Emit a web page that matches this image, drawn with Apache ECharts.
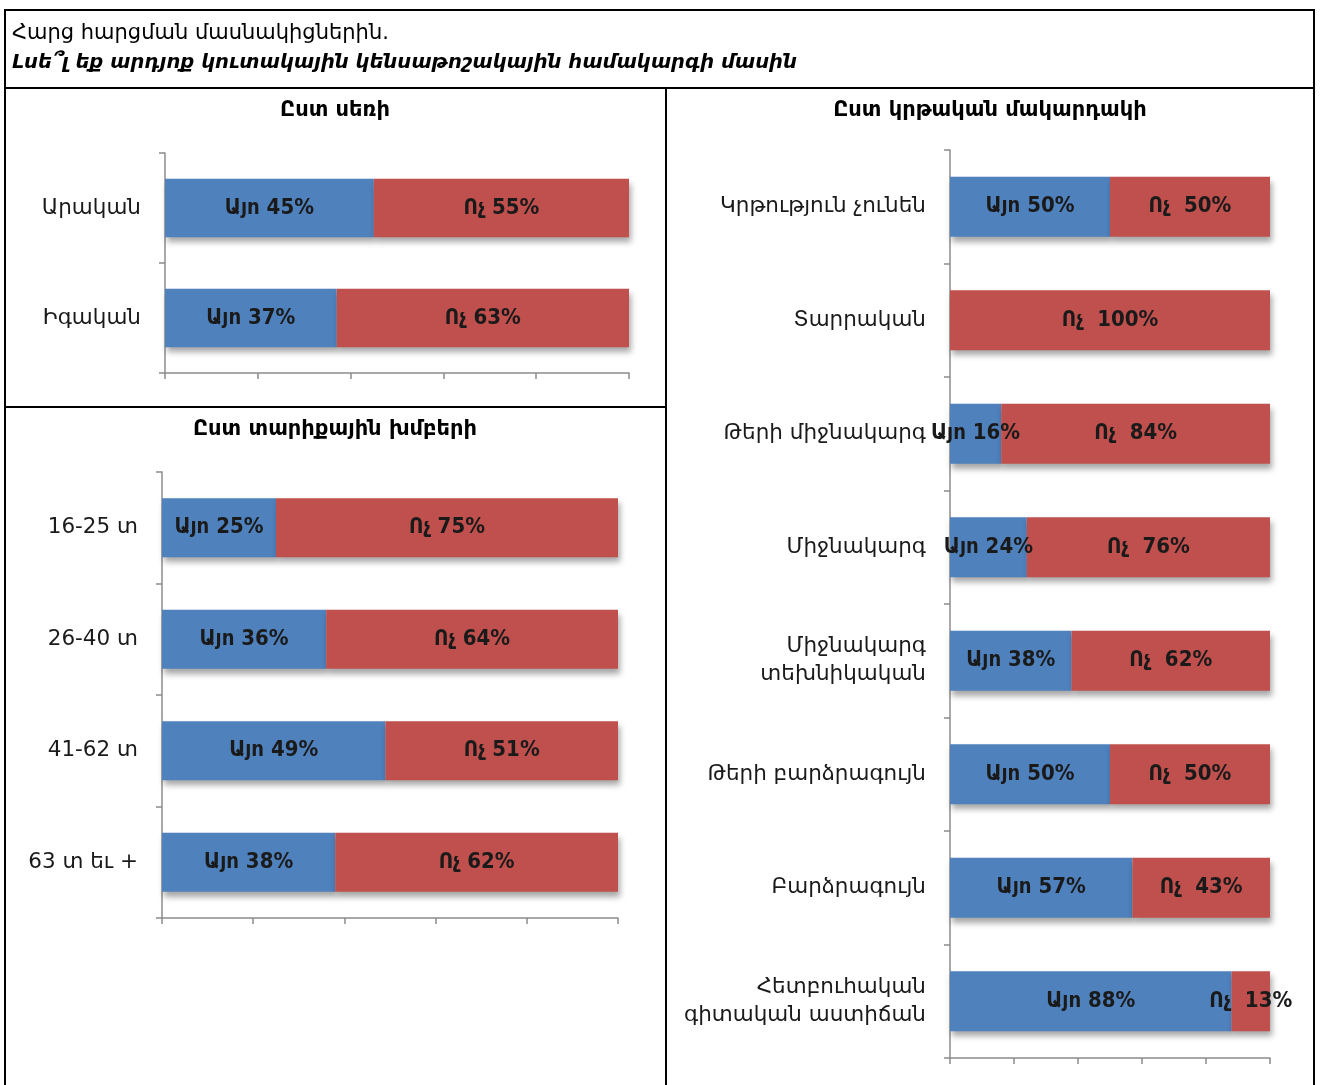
<!DOCTYPE html>
<html>
<head>
<meta charset="utf-8">
<script src="https://cdn.jsdelivr.net/npm/echarts@6/dist/echarts.min.js"></script>
<style>
	html, body { margin: 0; padding: 0; background: #fff; }
	#show { width: 1320px; height: 1085px; }
</style>
</head>
<body>
<div id="show"></div>
<script>
// Տվյալներ
var yesName = 'Այո';
var noName = 'Ոչ';

// Ըստ սեռի
var sexCats = ['Արական', 'Իգական'];
var sexYes = [45, 37];
var sexNo = [55, 63];

// Ըստ տարիքային խմբերի
var ageCats = ['16-25 տ', '26-40 տ', '41-62 տ', '63 տ եւ +'];
var ageYes = [25, 36, 49, 38];
var ageNo = [75, 64, 51, 62];

// Ըստ կրթական մակարդակի
var eduCats = ['Կրթություն չունեն', 'Տարրական', 'Թերի միջնակարգ', 'Միջնակարգ',
	'Միջնակարգ\nտեխնիկական', 'Թերի բարձրագույն', 'Բարձրագույն', 'Հետբուհական\nգիտական աստիճան'];
var eduYes = [50, 0, 16, 24, 38, 50, 57, 88];
var eduNo = [50, 100, 84, 76, 62, 50, 43, 13];

var headLine1 = 'Հարց հարցման մասնակիցներին.';
var headLine2 = 'Լսե՞լ եք արդյոք կուտակային կենսաթոշակային համակարգի մասին';
var titles = ['Ըստ սեռի', 'Ըստ տարիքային խմբերի', 'Ըստ կրթական մակարդակի'];

var myEchart = echarts.init(document.getElementById('show'), null, { renderer: 'canvas' });

var FONT = "'DejaVu Sans', sans-serif";
var FONT_C = "'DejaVu Sans Condensed', 'DejaVu Sans', sans-serif";
var axisColor = '#8c8c8c';

// bar label: "Այո 45%"
function labelFn(prefix, gap) {
	return function(p) {
		if (!p.value) return '';
		return prefix + gap + p.value + '%';
	};
}

function barSeries(idx, name, data, color, gap) {
	return {
		name: name,
		type: 'bar',
		stack: 's' + idx,
		xAxisIndex: idx,
		yAxisIndex: idx,
		barWidth: '53%',
		data: data,
		itemStyle: {
			color: color,
			shadowColor: 'rgba(0,0,0,0.35)',
			shadowBlur: 6,
			shadowOffsetX: 2,
			shadowOffsetY: 5
		},
		label: {
			show: true,
			position: 'inside',
			color: '#1a1a1a',
			fontFamily: FONT_C,
			fontWeight: 'bold',
			fontSize: 22,
			formatter: labelFn(name, gap)
		}
	};
}

function valueAxis(idx) {
	return {
		type: 'value',
		gridIndex: idx,
		min: 0,
		max: 100,
		interval: 20,
		axisLine: { show: true, lineStyle: { color: axisColor, width: 1.5 } },
		axisTick: { show: true, length: 6, lineStyle: { color: axisColor, width: 1.5 } },
		axisLabel: { show: false },
		splitLine: { show: false }
	};
}

function catAxis(idx, cats) {
	return {
		type: 'category',
		gridIndex: idx,
		data: cats,
		inverse: true,
		axisLine: { show: true, lineStyle: { color: axisColor, width: 1.5 } },
		axisTick: { show: true, length: 6, lineStyle: { color: axisColor, width: 1.5 } },
		axisLabel: {
			margin: 24,
			color: '#1a1a1a',
			fontFamily: FONT,
			fontSize: 21.5,
			lineHeight: 28
		}
	};
}

function titleText(x, y, text) {
	return { type: 'text', x: x, y: y,
		style: { text: text, fill: '#000', font: "bold 21px 'DejaVu Sans'", align: 'center', verticalAlign: 'middle' } };
}

var option = {
	animation: false,
	backgroundColor: '#fff',
	grid: [
		{ left: 165, top: 153, width: 464, height: 220 },
		{ left: 162, top: 472, width: 456, height: 446 },
		{ left: 950, top: 150, width: 320, height: 908 }
	],
	xAxis: [valueAxis(0), valueAxis(1), valueAxis(2)],
	yAxis: [catAxis(0, sexCats), catAxis(1, ageCats), catAxis(2, eduCats)],
	series: [
		barSeries(0, yesName, sexYes, '#4F81BD', ' '),
		barSeries(0, noName, sexNo, '#C0504D', ' '),
		barSeries(1, yesName, ageYes, '#4F81BD', ' '),
		barSeries(1, noName, ageNo, '#C0504D', ' '),
		barSeries(2, yesName, eduYes, '#4F81BD', ' '),
		barSeries(2, noName, eduNo, '#C0504D', '  ')
	],
	// աղյուսակի եզրագծերը և վերնագրերը
	graphic: [
		{ type: 'rect', shape: { x: 5, y: 10, width: 1309, height: 1100 },
			style: { fill: 'none', stroke: '#000', lineWidth: 2 } },
		{ type: 'line', shape: { x1: 5, y1: 88, x2: 1314, y2: 88 },
			style: { stroke: '#000', lineWidth: 2 } },
		{ type: 'line', shape: { x1: 666, y1: 88, x2: 666, y2: 1100 },
			style: { stroke: '#000', lineWidth: 2 } },
		{ type: 'line', shape: { x1: 5, y1: 407, x2: 666, y2: 407 },
			style: { stroke: '#000', lineWidth: 2 } },
		{ type: 'text', x: 12, y: 34,
			style: { text: headLine1, fill: '#000', font: "21px 'DejaVu Sans'", verticalAlign: 'middle' } },
		{ type: 'text', x: 12, y: 63,
			style: { text: headLine2, fill: '#000', font: "italic bold 19.5px 'DejaVu Sans'", verticalAlign: 'middle' } },
		titleText(335, 111, titles[0]),
		titleText(335, 430, titles[1]),
		titleText(990, 111, titles[2])
	]
};

myEchart.setOption(option);
</script>
</body>
</html>
